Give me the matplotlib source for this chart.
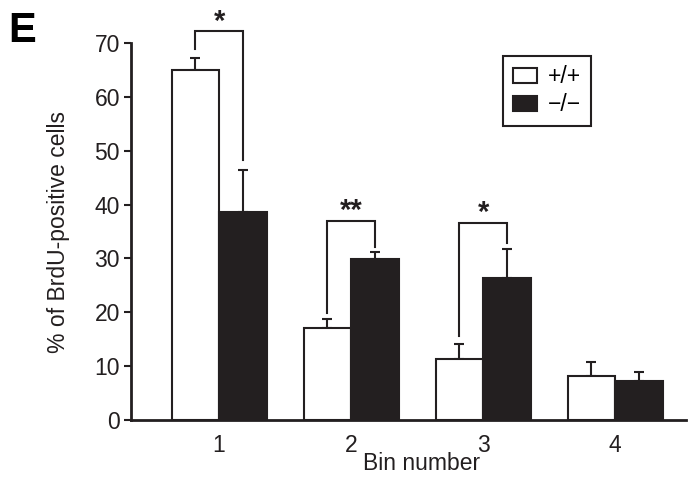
import matplotlib
matplotlib.use("Agg")
import matplotlib.pyplot as plt
import numpy as np

plt.rcParams["font.family"] = ["Liberation Sans", "DejaVu Sans"]

# ---- data -------------------------------------------------------
bins = [1, 2, 3, 4]
wt_mean = [65.0, 17.1, 11.3, 8.1]     # +/+
wt_err = [2.2, 1.7, 2.7, 2.6]
ko_mean = [38.7, 29.9, 26.4, 7.2]     # -/-
ko_err = [7.8, 1.2, 5.3, 1.6]

# significance brackets: (bin, left foot, top, right foot, label)
sig_bins = [1, 2, 3]
sig_left = [69.0, 19.8, 15.6]
sig_top = [72.2, 37.0, 36.6]
sig_right = [48.3, 32.2, 32.9]
sig_label = ["*", "**", "*"]

INK = "#231f20"
W = 0.36
FS = 16.5

fig = plt.figure(figsize=(6.88, 4.79), dpi=100)
ax = fig.add_axes([0.1904, 0.1238, 0.807, 0.7858])

x = np.array(bins, dtype=float)
ax.bar(x - W / 2, wt_mean, W, color="white", edgecolor=INK, linewidth=1.5,
       label="+/+", zorder=2)
ax.bar(x + W / 2, ko_mean, W, color=INK, edgecolor=INK, linewidth=1.5,
       label="\u2212/\u2212", zorder=2)
ax.errorbar(x - W / 2, wt_mean, yerr=[np.zeros(4), wt_err], fmt="none",
            ecolor=INK, elinewidth=1.5, capsize=3.5, capthick=1.5, zorder=1)
ax.errorbar(x + W / 2, ko_mean, yerr=[np.zeros(4), ko_err], fmt="none",
            ecolor=INK, elinewidth=1.5, capsize=3.5, capthick=1.5, zorder=1)

for b, yl, yt, yr, lab in zip(sig_bins, sig_left, sig_top, sig_right, sig_label):
    xl, xr = b - W / 2, b + W / 2
    ax.plot([xl, xl, xr, xr], [yl, yt, yt, yr], color=INK, lw=1.5,
            clip_on=False, solid_joinstyle="miter")
    ax.text(b, yt - 0.8, lab, ha="center", va="bottom", fontsize=21,
            fontweight="bold", color=INK, clip_on=False)

ax.set_xlim(0.333, 4.538)
ax.set_ylim(0, 70)
ax.set_xticks(bins)
ax.set_yticks(range(0, 71, 10))
ax.tick_params(axis="x", length=0, labelsize=FS, pad=10, colors=INK)
ax.tick_params(axis="y", length=5, width=1.5, labelsize=FS, pad=3, colors=INK)
for s in ["top", "right"]:
    ax.spines[s].set_visible(False)
for s in ["left", "bottom"]:
    ax.spines[s].set_linewidth(2)
    ax.spines[s].set_color(INK)

ax.set_xlabel("Bin number", fontsize=FS, color=INK, va="top")
ax.xaxis.set_label_coords(0.523, -0.086)
ax.set_ylabel("% of BrdU-positive cells", fontsize=FS, color=INK,
              va="center")
ax.yaxis.set_label_coords(-0.13, 0.5)

leg = ax.legend(loc="upper left", bbox_to_anchor=(0.67, 0.967),
                borderaxespad=0, fontsize=FS, handlelength=1.05,
                handleheight=0.65, fancybox=False, framealpha=1,
                edgecolor=INK, borderpad=0.42, labelspacing=0.22,
                handletextpad=0.5)
leg.get_frame().set_linewidth(1.5)

fig.text(0.012, 0.912, "E", fontsize=30, fontweight="bold", va="baseline",
         ha="left", color="black")

fig.savefig("out.png", dpi=100)
